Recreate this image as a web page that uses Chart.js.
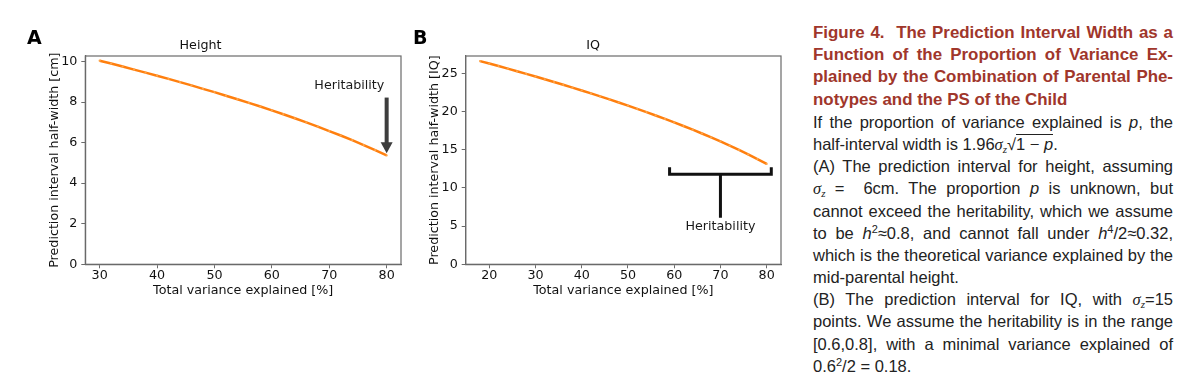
<!DOCTYPE html>
<html>
<head>
<meta charset="utf-8">
<script src="https://cdn.jsdelivr.net/npm/chart.js@4"></script>
<style>
  body { margin: 0; background: #fff; width: 1200px; height: 389px; overflow: hidden; position: relative; }
  canvas { position: absolute; top: 0; }
  #chart-a { left: 0; }
  #chart-b { left: 405px; }
  .panel { position: absolute; top: 28px; font: bold 19px "DejaVu Sans", sans-serif; line-height: 1; color: #000; }
  .caption { position: absolute; left: 813px; top: 22px; width: 360px; font-family: "Liberation Sans", Arial, sans-serif; font-size: 16.5px; color: #222; }
  .caption div { height: 22.2px; line-height: 22.2px; text-align: justify; text-align-last: justify; white-space: nowrap; }
  .caption div.last { text-align-last: left; }
  .caption .head { color: #a0362b; font-weight: bold; font-size: 16.9px; }
  .m { font-style: italic; }
  .sg { font-family: "Liberation Serif", serif; font-style: italic; }
  .sub { font-size: 11px; position: relative; top: 3px; line-height: 0; }
  .sup { font-size: 11px; position: relative; top: -6px; line-height: 0; }
  .root { border-top: 1px solid #222; line-height: 1; }
</style>
</head>
<body>
<canvas id="chart-a" width="405" height="389"></canvas>
<canvas id="chart-b" width="400" height="389"></canvas>
<div class="panel" style="left:27px">A</div>
<div class="panel" style="left:413px">B</div>

<div class="caption">
  <div class="head">Figure 4.&nbsp; The Prediction Interval Width as a</div>
  <div class="head">Function of the Proportion of Variance Ex-</div>
  <div class="head">plained by the Combination of Parental Phe-</div>
  <div class="head last">notypes and the PS of the Child</div>
  <div>If the proportion of variance explained is <span class="m">p</span>, the</div>
  <div class="last">half-interval width is 1.96<span class="sg">σ<span class="sub">z</span></span>√<span class="root">1 − <span class="m">p</span></span>.</div>
  <div>(A) The prediction interval for height, assuming</div>
  <div><span class="sg">σ<span class="sub">z</span></span> = &nbsp;6cm. The proportion <span class="m">p</span> is unknown, but</div>
  <div>cannot exceed the heritability, which we assume</div>
  <div>to be <span class="m">h</span><span class="sup">2</span>≈0.8, and cannot fall under <span class="m">h</span><span class="sup">4</span>/2≈0.32,</div>
  <div>which is the theoretical variance explained by the</div>
  <div class="last">mid-parental height.</div>
  <div>(B) The prediction interval for IQ, with <span class="sg">σ<span class="sub">z</span></span>=15</div>
  <div>points. We assume the heritability is in the range</div>
  <div>[0.6,0.8], with a minimal variance explained of</div>
  <div class="last">0.6<span class="sup">2</span>/2 = 0.18.</div>
</div>

<script>
const FONT = "'DejaVu Sans', sans-serif";
const FS = 12.7;

// panel A: height
const varianceA = [30, 32, 34, 36, 38, 40, 42, 44, 46, 48, 50, 52, 54, 56, 58, 60, 62, 64, 66, 68, 70, 72, 74, 76, 78, 80];
const widthA = [10.04, 9.90, 9.75, 9.60, 9.45, 9.30, 9.14, 8.98, 8.82, 8.65, 8.49, 8.31, 8.14, 7.96, 7.78, 7.59, 7.40, 7.20, 7.00, 6.79, 6.57, 6.35, 6.12, 5.88, 5.63, 5.37];
const xTicksA = [30, 40, 50, 60, 70, 80];
const yTicksA = [0, 2, 4, 6, 8, 10];

// panel B: IQ
const varianceB = [18, 20, 22, 24, 26, 28, 30, 32, 34, 36, 38, 40, 42, 44, 46, 48, 50, 52, 54, 56, 58, 60, 62, 64, 66, 68, 70, 72, 74, 76, 78, 80];
const widthB = [26.62, 26.30, 25.97, 25.63, 25.29, 24.95, 24.60, 24.24, 23.88, 23.52, 23.15, 22.77, 22.39, 22.00, 21.60, 21.20, 20.79, 20.37, 19.94, 19.50, 19.05, 18.59, 18.12, 17.64, 17.14, 16.63, 16.10, 15.56, 14.99, 14.40, 13.79, 13.15];
const xTicksB = [20, 30, 40, 50, 60, 70, 80];
const yTicksB = [0, 5, 10, 15, 20, 25];

// annotation anchors, in data units
const arrowA = { x: 80, from: 8.22, to: 5.48, textX: 73.5, textY: 8.8 };
const bracketB = { from: 59, to: 81, y: 11.8, lip: 12.7, stemX: 70, stemEnd: 6.1, textY: 4.9 };

// matplotlib style frame: all four spines
const frame = {
  id: "frame",
  afterDraw(chart) {
    const { ctx, chartArea: a } = chart;
    ctx.save();
    ctx.strokeStyle = "#6a6a6a";
    ctx.lineWidth = 1.2;
    ctx.strokeRect(a.left, a.top, a.right - a.left, a.bottom - a.top);
    ctx.restore();
  },
};

function label(ctx, text, x, y) {
  ctx.fillStyle = "#1a1a1a";
  ctx.font = FS + "px " + FONT;
  ctx.textAlign = "center";
  ctx.textBaseline = "middle";
  ctx.fillText(text, x, y);
}

const arrowPlugin = {
  id: "arrowA",
  afterDatasetsDraw(chart) {
    const { ctx, scales: { x, y } } = chart;
    const px = x.getPixelForValue(arrowA.x);
    const top = y.getPixelForValue(arrowA.from);
    const tip = y.getPixelForValue(arrowA.to);
    ctx.save();
    ctx.fillStyle = "#3d3d3d";
    ctx.fillRect(px - 2, top, 4, tip - top - 10);
    ctx.beginPath();
    ctx.moveTo(px - 6, tip - 11);
    ctx.lineTo(px + 6, tip - 11);
    ctx.lineTo(px, tip);
    ctx.closePath();
    ctx.fill();
    label(ctx, "Heritability", x.getPixelForValue(arrowA.textX), y.getPixelForValue(arrowA.textY));
    ctx.restore();
  },
};

const bracketPlugin = {
  id: "bracketB",
  afterDatasetsDraw(chart) {
    const { ctx, scales: { x, y } } = chart;
    const x0 = x.getPixelForValue(bracketB.from);
    const x1 = x.getPixelForValue(bracketB.to);
    const xm = x.getPixelForValue(bracketB.stemX);
    const yb = y.getPixelForValue(bracketB.y);
    const yl = y.getPixelForValue(bracketB.lip);
    const ys = y.getPixelForValue(bracketB.stemEnd);
    ctx.save();
    ctx.strokeStyle = "#111";
    ctx.lineWidth = 3;
    ctx.beginPath();
    ctx.moveTo(x0, yl);
    ctx.lineTo(x0, yb);
    ctx.lineTo(x1, yb);
    ctx.lineTo(x1, yl);
    ctx.moveTo(xm, yb);
    ctx.lineTo(xm, ys);
    ctx.stroke();
    label(ctx, "Heritability", xm, y.getPixelForValue(bracketB.textY));
    ctx.restore();
  },
};

function makeChart(id, cfg) {
  const points = cfg.xs.map((v, i) => ({ x: v, y: cfg.ys[i] }));
  const tickFont = { family: FONT, size: FS };
  const lh = FS * 1.2;
  return new Chart(document.getElementById(id), {
    type: "line",
    data: {
      datasets: [
        {
          data: points,
          borderColor: "#ff7f0e",
          borderWidth: 2.5,
          pointRadius: 1.1,
          pointBorderWidth: 0,
          pointBackgroundColor: "#ffa54a",
          tension: 0,
        },
      ],
    },
    options: {
      responsive: false,
      animation: false,
      devicePixelRatio: 1,
      layout: { padding: { left: 0, right: cfg.padRight, top: 0, bottom: 84.7 } },
      plugins: {
        legend: { display: false },
        tooltip: { enabled: false },
        title: {
          display: true,
          text: cfg.title,
          color: "#111",
          font: { family: FONT, size: FS, weight: "normal" },
          padding: { top: 46 - lh / 2, bottom: 10 - lh / 2 },
        },
      },
      scales: {
        x: {
          type: "linear",
          min: cfg.xMin,
          max: cfg.xMax,
          afterBuildTicks: (s) => { s.ticks = cfg.xTicks.map((v) => ({ value: v })); },
          afterFit: (s) => { s.height = 40; s.paddingLeft = 0; s.paddingRight = 0; },
          grid: { drawOnChartArea: false, drawTicks: true, tickLength: 4, tickColor: "#6a6a6a" },
          border: { display: true, color: "#6a6a6a", width: 1.2 },
          ticks: { color: "#111", font: tickFont, padding: 0, maxRotation: 0 },
          title: {
            display: true,
            text: "Total variance explained [%]",
            color: "#111",
            font: tickFont,
            padding: { top: 0, bottom: 304.3 - 290.7 - lh / 2 },
          },
        },
        y: {
          type: "linear",
          min: 0,
          max: cfg.yMax,
          afterBuildTicks: (s) => { s.ticks = cfg.yTicks.map((v) => ({ value: v })); },
          afterFit: (s) => { s.width = cfg.yWidth; s.paddingTop = 0; s.paddingBottom = 0; },
          grid: { drawOnChartArea: false, drawTicks: true, tickLength: 4, tickColor: "#6a6a6a" },
          border: { display: true, color: "#6a6a6a", width: 1.2 },
          ticks: { color: "#111", font: tickFont, padding: 4 },
          title: {
            display: true,
            text: cfg.yTitle,
            color: "#111",
            font: tickFont,
            padding: { top: cfg.yTitleX - lh / 2, bottom: 0 },
          },
        },
      },
    },
    plugins: [frame, cfg.extra],
  });
}

makeChart("chart-a", {
  title: "Height",
  xs: varianceA,
  ys: widthA,
  xTicks: xTicksA,
  yTicks: yTicksA,
  xMin: 27.5,
  xMax: 82.5,
  yMax: 10.27,
  yWidth: 85.3,
  yTitleX: 55,
  padRight: 4,
  yTitle: "Prediction interval half-width [cm]",
  extra: arrowPlugin,
});

makeChart("chart-b", {
  title: "IQ",
  xs: varianceB,
  ys: widthB,
  xTicks: xTicksB,
  yTicks: yTicksB,
  xMin: 14.9,
  xMax: 83.1,
  yMax: 27.29,
  yWidth: 60.7,
  yTitleX: 30,
  padRight: 24,
  yTitle: "Prediction interval half-width [IQ]",
  extra: bracketPlugin,
});
</script>
</body>
</html>
